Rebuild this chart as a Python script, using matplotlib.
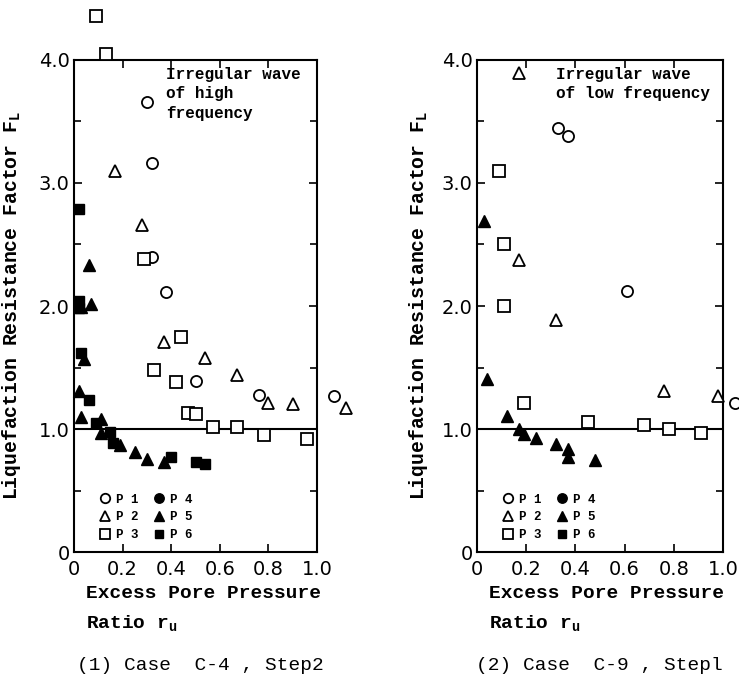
import matplotlib
matplotlib.use('Agg')
import matplotlib.pyplot as plt

MONO = 'Liberation Mono'

# Case C-4, Step2 (high frequency)
c4_p1_x = [0.30, 0.32, 0.32, 0.38, 0.50, 0.76, 1.07]
c4_p1_y = [3.66, 3.16, 2.40, 2.11, 1.39, 1.28, 1.27]
c4_p2_x = [0.17, 0.28, 0.37, 0.54, 0.67, 0.80, 0.90, 1.12]
c4_p2_y = [3.10, 2.66, 1.71, 1.58, 1.44, 1.21, 1.20, 1.17]
c4_p3_x = [0.09, 0.13, 0.29, 0.33, 0.44, 0.42, 0.47, 0.50, 0.57, 0.67, 0.78, 0.96]
c4_p3_y = [4.36, 4.05, 2.38, 1.48, 1.75, 1.38, 1.13, 1.12, 1.02, 1.02, 0.95, 0.92]
c4_p5_x = [0.06, 0.07, 0.03, 0.04, 0.02, 0.03, 0.11, 0.11, 0.19, 0.25, 0.30, 0.37]
c4_p5_y = [2.33, 2.02, 1.99, 1.57, 1.31, 1.10, 1.08, 0.97, 0.87, 0.81, 0.76, 0.73]
c4_p6_x = [0.02, 0.02, 0.02, 0.03, 0.06, 0.09, 0.15, 0.16, 0.40, 0.50, 0.54]
c4_p6_y = [2.79, 2.04, 1.98, 1.62, 1.24, 1.05, 0.98, 0.89, 0.77, 0.73, 0.72]

# Case C-9, Step1 (low frequency)
c9_p1_x = [0.33, 0.37, 0.61, 1.05]
c9_p1_y = [3.45, 3.38, 2.12, 1.21]
c9_p2_x = [0.17, 0.17, 0.32, 0.76, 0.98]
c9_p2_y = [3.89, 2.37, 1.89, 1.31, 1.27]
c9_p3_x = [0.09, 0.11, 0.11, 0.19, 0.45, 0.68, 0.78, 0.91]
c9_p3_y = [3.10, 2.50, 2.00, 1.21, 1.06, 1.03, 1.00, 0.97]
c9_p5_x = [0.03, 0.04, 0.12, 0.17, 0.19, 0.24, 0.32, 0.37, 0.37, 0.48]
c9_p5_y = [2.69, 1.41, 1.11, 1.00, 0.96, 0.93, 0.88, 0.84, 0.77, 0.75]

x_ticks = [0, 0.2, 0.4, 0.6, 0.8, 1.0]
x_ticklabels = ['0', '0.2', '0.4', '0.6', '0.8', '1.0']
y_ticks = [0, 1, 2, 3, 4]
y_ticklabels = ['0', '1.0', '2.0', '3.0', '4.0']


def draw_panel(ax, p1, p2, p3, p5, p6, note, note_x, ylabel_x):
    ms = 8
    kw = dict(linestyle='none', clip_on=False, color='black', zorder=3)
    ax.plot(*p1, marker='o', mfc='white', mew=1.3, ms=ms, label='P 1', **kw)
    ax.plot(*p2, marker='^', mfc='white', mew=1.3, ms=ms, label='P 2', **kw)
    ax.plot(*p3, marker='s', mfc='white', mew=1.3, ms=ms, label='P 3', **kw)
    ax.plot([], [], marker='o', ms=ms, label='P 4', **kw)
    ax.plot(*p5, marker='^', ms=ms, label='P 5', **kw)
    ax.plot(*p6, marker='s', ms=ms - 1, label='P 6', **kw)

    ax.axhline(1.0, color='black', lw=1.5, zorder=2)

    ax.set_xlim(0, 1.0)
    ax.set_ylim(0, 4.0)
    ax.set_xticks(x_ticks)
    ax.set_xticklabels(x_ticklabels)
    ax.set_yticks(y_ticks)
    ax.set_yticklabels(y_ticklabels)
    ax.set_yticks([0.5, 1.5, 2.5, 3.5], minor=True)
    ax.tick_params(which='both', direction='in', top=True, right=True,
                   labelsize=14, width=1.2)
    ax.tick_params(which='major', length=6, pad=3)
    ax.tick_params(axis='x', which='major', pad=6)
    ax.tick_params(which='minor', length=5)
    for s in ax.spines.values():
        s.set_linewidth(1.5)

    ax.text(note_x, 0.985, note, transform=ax.transAxes, ha='left', va='top',
            family=MONO, fontweight='bold', fontsize=11.5, linespacing=1.35)

    ax.set_ylabel('Liquefaction Resistance Factor F$_{\\mathregular{L}}$',
                  family=MONO, fontweight='bold', fontsize=14.2)
    ax.yaxis.set_label_coords(ylabel_x, 0.5)

    ax.legend(ncol=2, loc='lower left', bbox_to_anchor=(0.06, 0.0),
              frameon=False, handlelength=0.8, handletextpad=0.5,
              columnspacing=1.2, labelspacing=0.45, markerscale=0.85,
              prop={'family': MONO, 'weight': 'bold', 'size': 9})


fig = plt.figure(figsize=(7.39, 6.8), dpi=100)
ax1 = fig.add_axes([0.1001, 0.188, 0.329, 0.724])
ax2 = fig.add_axes([0.6455, 0.188, 0.333, 0.724])

draw_panel(ax1, (c4_p1_x, c4_p1_y), (c4_p2_x, c4_p2_y), (c4_p3_x, c4_p3_y),
           (c4_p5_x, c4_p5_y), (c4_p6_x, c4_p6_y),
           'Irregular wave\nof high\nfrequency', 0.38, -0.208)
draw_panel(ax2, (c9_p1_x, c9_p1_y), (c9_p2_x, c9_p2_y), (c9_p3_x, c9_p3_y),
           (c9_p5_x, c9_p5_y), ([], []),
           'Irregular wave\nof low frequency', 0.32, -0.19)

for left, cap_x, cap in ((86 / 739, 200 / 739, '(1) Case  C-4 , Step2'),
                         (489 / 739, 599 / 739, '(2) Case  C-9 , Stepl')):
    fig.text(left, 1 - 593 / 680, 'Excess Pore Pressure', family=MONO,
             fontweight='bold', fontsize=14, ha='left', va='center')
    fig.text(left, 1 - 624 / 680, 'Ratio r$_{\\mathregular{u}}$', family=MONO,
             fontweight='bold', fontsize=14, ha='left', va='center')
    fig.text(cap_x, 1 - 666 / 680, cap, family=MONO, fontsize=14,
             ha='center', va='center')

fig.savefig('out.png', dpi=100)
